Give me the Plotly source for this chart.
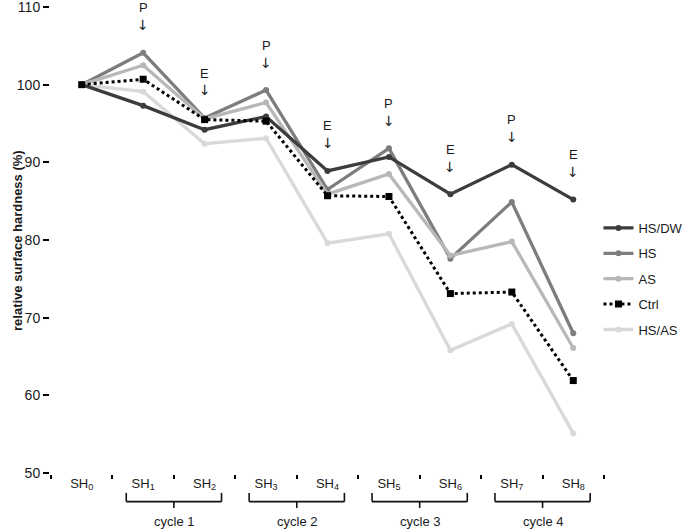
import plotly.graph_objects as go

# ---------------- data ----------------
stages = ["SH<sub>0</sub>", "SH<sub>1</sub>", "SH<sub>2</sub>", "SH<sub>3</sub>", "SH<sub>4</sub>",
          "SH<sub>5</sub>", "SH<sub>6</sub>", "SH<sub>7</sub>", "SH<sub>8</sub>"]
hs_dw = [100, 97.3, 94.2, 95.9, 88.9, 90.7, 85.9, 89.7, 85.2]
hs = [100, 104.1, 95.7, 99.3, 86.5, 91.8, 77.6, 84.9, 68.0]
as_ = [100, 102.5, 95.6, 97.7, 85.9, 88.5, 78.0, 79.8, 66.1]
ctrl = [100, 100.7, 95.5, 95.3, 85.7, 85.6, 73.1, 73.3, 61.9]
hs_as = [100, 99.1, 92.4, 93.1, 79.6, 80.8, 65.8, 69.2, 55.1]
treatments = ["", "P", "E", "P", "E", "P", "E", "P", "E"]
cycles = ["cycle 1", "cycle 2", "cycle 3", "cycle 4"]
y_ticks = [50, 60, 70, 80, 90, 100, 110]

FONT = "Arial, Liberation Sans, sans-serif"
TXT = "#1a1a1a"

fig = go.Figure()

series = [
    ("HS/DW", hs_dw, "#3c3c3c", "solid", "circle", 6, 3),
    ("HS", hs, "#7d7d7d", "solid", "circle", 6, 1),
    ("AS", as_, "#b8b8b8", "solid", "circle", 6, 2),
    ("Ctrl", ctrl, "#000000", "dot", "square", 7, 4),
    ("HS/AS", hs_as, "#d9d9d9", "solid", "circle", 6, 0),
]
for name, vals, col, dash, sym, msize, z in series:
    fig.add_trace(go.Scatter(
        x=stages, y=vals, name=name, mode="lines+markers",
        line=dict(color=col, width=3.3 if dash == "solid" else 3, dash=dash),
        marker=dict(color=col, size=msize, symbol=sym),
        legendgroup=name, zorder=z,
    ))

annotations = []
# P / E markers above each stage
all_series = [hs_dw, hs, as_, ctrl, hs_as]
for i, t in enumerate(treatments):
    if not t:
        continue
    top = max(s[i] for s in all_series)
    annotations.append(dict(x=i, y=top + 5.8, xref="x", yref="y", text=t, showarrow=False,
                            font=dict(family=FONT, size=13, color=TXT)))
    annotations.append(dict(x=i, y=top + 3.55, xref="x", yref="y", text="\u2193", showarrow=False,
                            font=dict(family="DejaVu Sans, sans-serif", size=14, color=TXT)))

# braces and cycle labels
shapes = []
ln = dict(color="#111111", width=1.6)
y_hook, y_bar, y_tip = -0.0427, -0.0614, -0.075
for c, label in enumerate(cycles):
    mid = 2 * c + 1.5
    x0, x1 = mid - 0.775, mid + 0.775
    shapes.append(dict(type="line", xref="x", yref="paper", x0=x0, x1=x0, y0=y_hook, y1=y_bar, line=ln))
    shapes.append(dict(type="line", xref="x", yref="paper", x0=x1, x1=x1, y0=y_hook, y1=y_bar, line=ln))
    shapes.append(dict(type="line", xref="x", yref="paper", x0=x0, x1=x1, y0=y_bar, y1=y_bar, line=ln))
    shapes.append(dict(type="line", xref="x", yref="paper", x0=mid, x1=mid, y0=y_bar, y1=y_tip, line=ln))
    annotations.append(dict(x=mid, y=-0.104, xref="x", yref="paper", text=label, showarrow=False,
                            yanchor="middle", font=dict(family=FONT, size=13, color=TXT)))

# y-axis title
annotations.append(dict(x=-0.0615, y=0.5, xref="paper", yref="paper", xanchor="center", yanchor="middle",
                        text="<b>relative surface hardness (%)</b>", textangle=-90, showarrow=False,
                        font=dict(family=FONT, size=13, color=TXT)))

fig.update_layout(
    width=685, height=531,
    margin=dict(l=51, r=81, t=7, b=58, autoexpand=False),
    paper_bgcolor="white", plot_bgcolor="white",
    font=dict(family=FONT, color=TXT),
    showlegend=True,
    legend=dict(x=0.99, xanchor="left", y=0.558, yanchor="top",
                font=dict(family=FONT, size=13, color=TXT),
                tracegroupgap=5.5, bgcolor="rgba(0,0,0,0)"),
    annotations=annotations, shapes=shapes,
)
fig.update_xaxes(
    type="category", range=[-0.5, 8.5], tickson="boundaries",
    showline=True, linecolor="#000", linewidth=2,
    ticks="outside", ticklen=4, tickwidth=2, tickcolor="#000",
    showgrid=False, zeroline=False, ticklabelstandoff=-3,
    tickfont=dict(family=FONT, size=13, color=TXT),
)
fig.update_yaxes(
    range=[50, 110], tickvals=y_ticks,
    showline=True, linecolor="#000", linewidth=2,
    ticks="outside", ticklen=6, tickwidth=2, tickcolor="#000",
    showgrid=False, zeroline=False, ticklabeloverflow="allow",
    tickfont=dict(family=FONT, size=14, color=TXT),
)

fig.write_html("out.html", config={"displayModeBar": False},
               post_script="document.body.style.margin='0';document.body.style.padding='0';")
